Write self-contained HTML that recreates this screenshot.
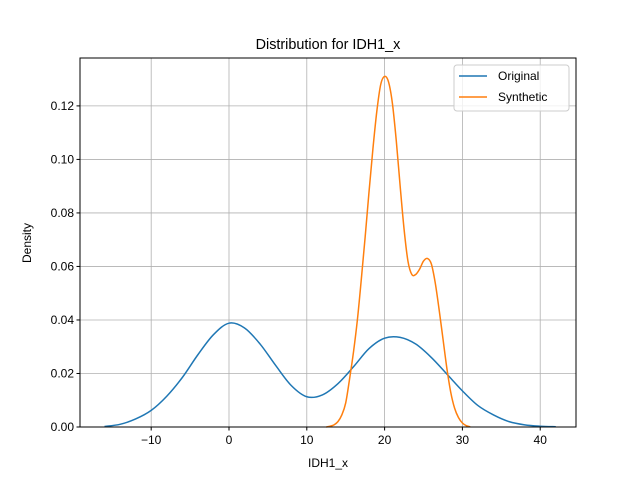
<!DOCTYPE html>
<html><head><meta charset="utf-8"><style>
body{margin:0;background:#fff;}
svg{font-family:"Liberation Sans","DejaVu Sans",sans-serif;}
</style></head><body>
<svg id="chart" width="640" height="480" viewBox="0 0 640 480">
<rect width="640" height="480" fill="#fff"/>
<g id="grid"></g>
<g id="series"></g>
<rect x="80" y="58" width="496" height="369" fill="none" stroke="#000" stroke-width="1"/>
<g id="xticks"></g><g id="yticks"></g>
<text x="328" y="49" text-anchor="middle" font-size="14.4">Distribution for IDH1_x</text>
<text x="328" y="467" text-anchor="middle" font-size="12">IDH1_x</text>
<text x="31" y="243" text-anchor="middle" font-size="12" transform="rotate(-90 31 243)">Density</text>
<g>
<rect x="454" y="65" width="115" height="46" rx="3" fill="#fff" fill-opacity="0.8" stroke="#ccc"/>
<g><line x1="459" y1="76" x2="487" y2="76" stroke="#1f77b4" stroke-width="1.5"/><text x="498" y="80" font-size="12">Original</text></g>
<g><line x1="459" y1="97" x2="487" y2="97" stroke="#ff7f0e" stroke-width="1.5"/><text x="498" y="101" font-size="12">Synthetic</text></g>
</g>
</svg>
<script>
const origX=[-16,-14,-12,-10,-8,-6,-4,-2,0,2,4,6,8,10,12,14,16,18,20,22,24,26,28,30,32,34,36,38,40,42];
const origY=[0.0002,0.001,0.003,0.0062,0.0115,0.0185,0.027,0.0345,0.0388,0.037,0.031,0.023,0.0155,0.0113,0.012,0.0162,0.0225,0.0293,0.0332,0.0335,0.031,0.026,0.0198,0.0135,0.008,0.0045,0.002,0.0008,0.0003,0.0001];
const synX=[12.5,13,13.5,14,14.5,15,15.5,16,16.5,17,17.5,18,18.5,19,19.5,20,20.5,21,21.5,22,22.5,23,23.5,24,24.5,25,25.5,26,26.5,27,27.5,28,28.5,29,29.5,30,30.5,31];
const synY=[0,0.0003,0.0008,0.002,0.0045,0.009,0.018,0.028,0.04,0.055,0.071,0.088,0.104,0.118,0.128,0.131,0.129,0.121,0.107,0.09,0.074,0.062,0.057,0.057,0.059,0.062,0.063,0.061,0.054,0.044,0.033,0.022,0.013,0.007,0.0035,0.0015,0.0005,0.0001];
const xTicks=[-10,0,10,20,30,40];
const yTicks=[0,0.02,0.04,0.06,0.08,0.10,0.12];
const yLabels=["0.00","0.02","0.04","0.06","0.08","0.10","0.12"];
const NS="http://www.w3.org/2000/svg";
const L=80,R=576,T=58,B=427,xMin=-19.15,xMax=44.6,yMin=0,yMax=0.1379;
function sx(v){return L+(v-xMin)/(xMax-xMin)*(R-L);}
function sy(v){return B-(v-yMin)/(yMax-yMin)*(B-T);}
function mk(t,a,p){const e=document.createElementNS(NS,t);for(const k in a)e.setAttribute(k,a[k]);p.appendChild(e);return e;}
const grid=document.getElementById('grid'),xt=document.getElementById('xticks'),yt=document.getElementById('yticks'),ser=document.getElementById('series');
xTicks.forEach(v=>{const x=sx(v);
const g=mk('line',{x1:x,x2:x,y1:T,y2:B,stroke:'#b0b0b0','stroke-width':0.8},grid);


mk('line',{x1:x,x2:x,y1:B,y2:B+3.5,stroke:'#000'},xt);
const t=mk('text',{x:x,y:B+17,'text-anchor':'middle','font-size':12},xt);t.textContent=v<0?'\u2212'+Math.abs(v):v;

});
yTicks.forEach((v,i)=>{const y=sy(v);
const g=mk('line',{x1:L,x2:R,y1:y,y2:y,stroke:'#b0b0b0','stroke-width':0.8},grid);


mk('line',{x1:L-3.5,x2:L,y1:y,y2:y,stroke:'#000'},yt);
const t=mk('text',{x:L-6,y:y+4,'text-anchor':'end','font-size':12},yt);t.textContent=yLabels[i];

});
function path(xs,ys){const p=xs.map((x,i)=>[sx(x),sy(ys[i])]);let d='M'+p[0][0]+','+p[0][1];
for(let i=0;i<p.length-1;i++){const p0=p[i-1]||p[i],p1=p[i],p2=p[i+1],p3=p[i+2]||p2;
d+=' C'+(p1[0]+(p2[0]-p0[0])/6)+','+(p1[1]+(p2[1]-p0[1])/6)+' '+(p2[0]-(p3[0]-p1[0])/6)+','+(p2[1]-(p3[1]-p1[1])/6)+' '+p2[0]+','+p2[1];}return d;}
const a=mk('path',{d:path(origX,origY),fill:'none',stroke:'#1f77b4','stroke-width':1.5},ser);


const b=mk('path',{d:path(synX,synY),fill:'none',stroke:'#ff7f0e','stroke-width':1.5},ser);


</script>
</body></html>
